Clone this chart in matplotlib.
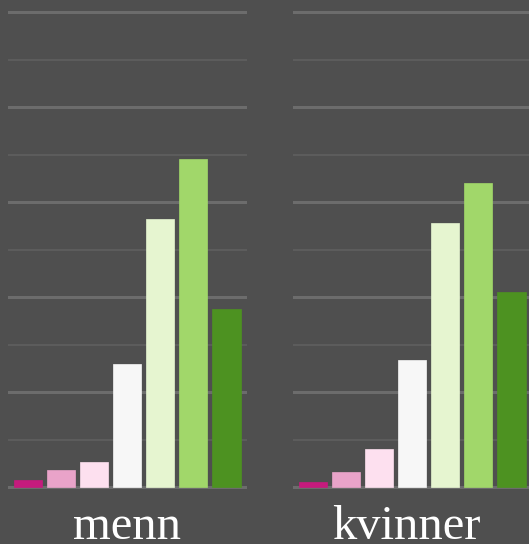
import matplotlib
matplotlib.use("Agg")
import matplotlib.pyplot as plt

categories = ["1", "2", "3", "4", "5", "6", "7"]
panels = ["menn", "kvinner"]
menn = [0.77, 1.82, 2.63, 12.98, 28.2, 34.5, 18.7]
kvinner = [0.56, 1.61, 3.97, 13.4, 27.76, 31.97, 20.56]
colors = ["#c51b7d", "#e9a3c9", "#fde0ef", "#f7f7f7", "#e6f5d0", "#a1d76a", "#4d9221"]

W, H = 529, 544
bg = "#4f4f4f"
fig = plt.figure(figsize=(W / 100, H / 100), dpi=100, facecolor=bg)

px_per_unit = 9.5
base_px = 487      # y (from top) of value 0
bottom_px = 497    # axis bottom in px from top
ymin = -(bottom_px - base_px) / px_per_unit
ymax = base_px / px_per_unit

lefts = [8, 293]
width_px = 239
label_x = [126.5, 406.7]

for i, (name, vals) in enumerate(zip(panels, [menn, kvinner])):
    ax = fig.add_axes([lefts[i] / W, (H - bottom_px) / H, width_px / W, bottom_px / H])
    ax.set_facecolor(bg)
    ax.patch.set_alpha(0)
    x = list(range(len(categories)))
    ax.bar(x, vals, width=0.85, color=colors, edgecolor=colors, linewidth=0.5, zorder=3)
    ax.set_xlim(-0.6, 6.62)
    ax.set_ylim(ymin, ymax)
    for v in range(0, 55, 5):
        if v % 10 == 0:
            ax.axhline(v, color="#6c6c6c", lw=2.2, zorder=1)
        else:
            ax.axhline(v, color="#5d5d5d", lw=1.4, zorder=1)
    ax.set_xticks([])
    ax.set_yticks([])
    for s in ax.spines.values():
        s.set_visible(False)
    fig.text(label_x[i] / W, 1 - 539 / H, name, ha="center", va="baseline",
             color="white", fontsize=35, family=["Liberation Serif", "DejaVu Serif"])

fig.savefig("out.png", dpi=100, facecolor=bg)
